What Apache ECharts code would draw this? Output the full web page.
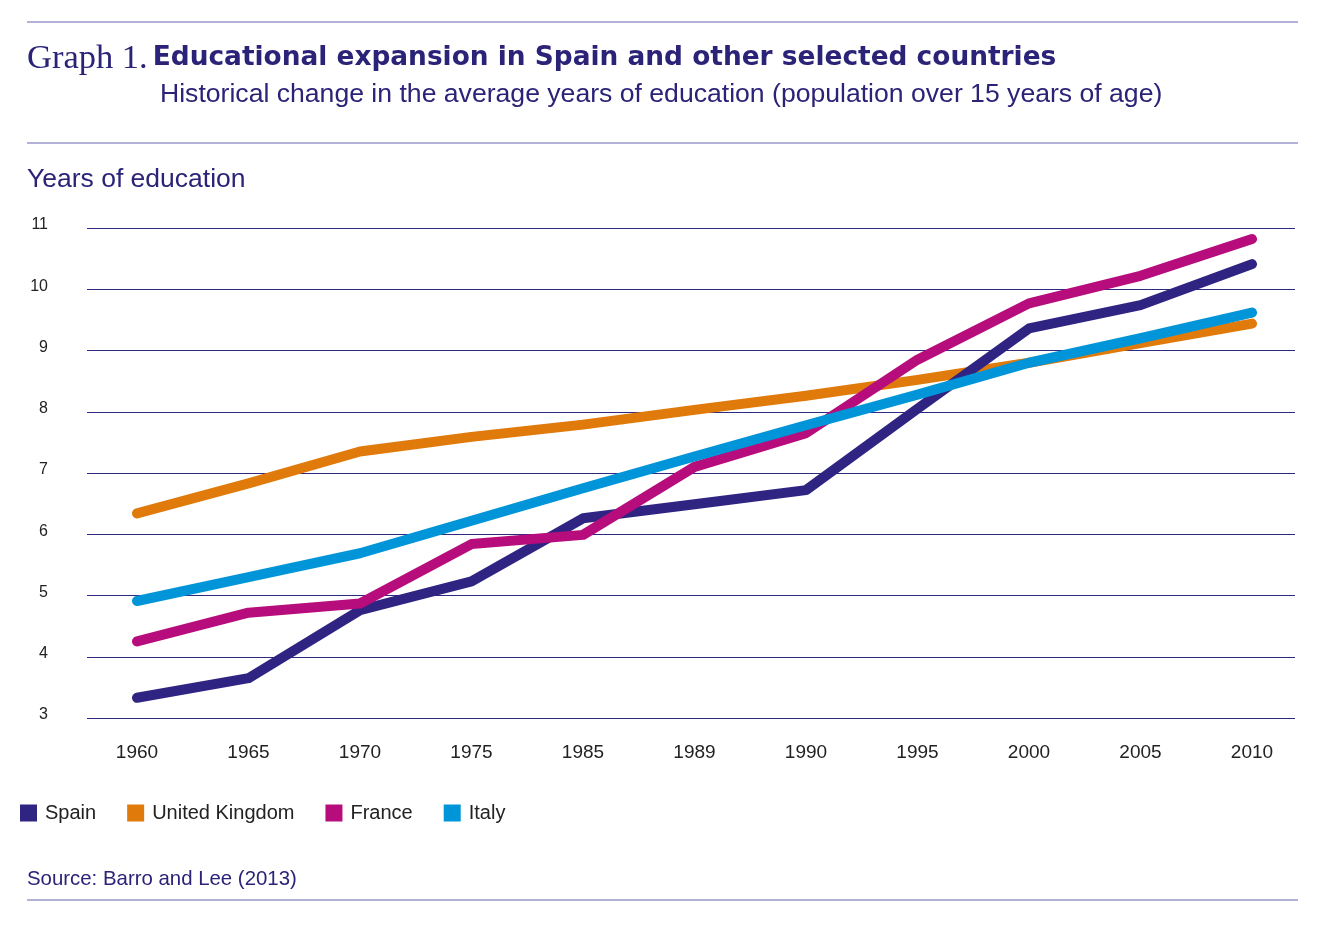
<!DOCTYPE html>
<html>
<head>
<meta charset="utf-8">
<script src="https://cdn.jsdelivr.net/npm/echarts@6/dist/echarts.min.js"></script>
<style>
  html, body { margin: 0; padding: 0; background: #fff; }
  #chart { width: 1323px; height: 927px; }
</style>
</head>
<body>
<div id="chart"></div>
<script>
// data
const years = ['1960', '1965', '1970', '1975', '1985', '1989', '1990', '1995', '2000', '2005', '2010'];
const spain = [3.33, 3.65, 4.76, 5.23, 6.26, 6.49, 6.72, 8.05, 9.36, 9.74, 10.41];
const unitedKingdom = [6.34, 6.83, 7.35, 7.59, 7.79, 8.03, 8.26, 8.52, 8.80, 9.12, 9.44];
const france = [4.25, 4.72, 4.87, 5.84, 5.99, 7.10, 7.65, 8.85, 9.77, 10.22, 10.82];
const italy = [4.91, 5.30, 5.69, 6.22, 6.75, 7.27, 7.78, 8.28, 8.80, 9.20, 9.62];
const yTicks = [3, 11, 1]; // min, max, step

const navy = '#2b2377';
const ruleColor = '#9b97cb';

const chart = echarts.init(document.getElementById('chart'));

const lineSeries = (name, data, color) => ({
    name: name,
    type: 'line',
    xAxisIndex: 1,
    yAxisIndex: 1,
    data: data,
    showSymbol: false,
    symbol: 'circle',
    itemStyle: { color: color },
    lineStyle: { width: 10, color: color, cap: 'round', join: 'round' },
    emphasis: { disabled: true }
});

const option = {
    backgroundColor: '#fff',
    animation: false,
    title: [
        {
            left: 27,
            top: 41,
            padding: 0,
            text: '{a|Graph 1.} {b|Educational expansion in Spain and other selected countries}',
            textStyle: {
                rich: {
                    a: { fontFamily: 'Liberation Serif', fontSize: 34.5, color: navy, fontWeight: 'normal' },
                    b: { fontFamily: 'DejaVu Sans', fontSize: 26.4, color: navy, fontWeight: 'bold' }
                }
            }
        },
        {
            left: 160,
            top: 81,
            padding: 0,
            text: 'Historical change in the average years of education (population over 15 years of age)',
            textStyle: { fontFamily: 'Liberation Sans', fontSize: 26.6, color: navy, fontWeight: 'normal' }
        },
        {
            left: 27,
            top: 166,
            padding: 0,
            text: 'Years of education',
            textStyle: { fontFamily: 'Liberation Sans', fontSize: 26.5, color: navy, fontWeight: 'normal' }
        },
        {
            left: 27,
            top: 869,
            padding: 0,
            text: 'Source: Barro and Lee (2013)',
            textStyle: { fontFamily: 'Liberation Sans', fontSize: 20.4, color: navy, fontWeight: 'normal' }
        }
    ],
    graphic: [
        { type: 'line', shape: { x1: 27, y1: 22, x2: 1298, y2: 22 }, style: { stroke: ruleColor, lineWidth: 1.5 } },
        { type: 'line', shape: { x1: 27, y1: 143, x2: 1298, y2: 143 }, style: { stroke: ruleColor, lineWidth: 1.5 } },
        { type: 'line', shape: { x1: 27, y1: 900, x2: 1298, y2: 900 }, style: { stroke: ruleColor, lineWidth: 1.5 } }
    ],
    legend: {
        left: 15,
        top: 798,
        icon: 'rect',
        itemWidth: 17,
        itemHeight: 17,
        itemGap: 31,
        data: ['Spain', 'United Kingdom', 'France', 'Italy'],
        selectedMode: false,
        textStyle: { fontFamily: 'Liberation Sans', fontSize: 20, color: '#222', padding: [0, 0, 0, 3] }
    },
    grid: [
        { left: 87, right: 28, top: 228, bottom: 209 },
        { left: 137, right: 71, top: 228, bottom: 209 }
    ],
    xAxis: [
        { gridIndex: 0, type: 'value', min: 0, max: 1, show: false },
        {
            gridIndex: 1,
            type: 'category',
            boundaryGap: false,
            data: years,
            axisLine: { show: false },
            axisTick: { show: false },
            axisLabel: { margin: 25, fontFamily: 'Liberation Sans', fontSize: 19, color: '#222' }
        }
    ],
    yAxis: [
        {
            gridIndex: 0,
            type: 'value',
            min: yTicks[0],
            max: yTicks[1],
            interval: yTicks[2],
            axisLine: { show: false },
            axisTick: { show: false },
            axisLabel: {
                margin: 39,
                fontFamily: 'Liberation Sans',
                fontSize: 16,
                color: '#222',
                verticalAlign: 'bottom',
                lineHeight: 6
            },
            splitLine: { show: true, lineStyle: { color: '#2e2a82', width: 1.2 } }
        },
        { gridIndex: 1, type: 'value', min: yTicks[0], max: yTicks[1], show: false }
    ],
    series: [
        lineSeries('United Kingdom', unitedKingdom, '#e07a0b'),
        lineSeries('Spain', spain, '#2f2482'),
        lineSeries('France', france, '#b70c7c'),
        lineSeries('Italy', italy, '#0095d8')
    ]
};

chart.setOption(option);
window.addEventListener('resize', () => chart.resize());
</script>
</body>
</html>
